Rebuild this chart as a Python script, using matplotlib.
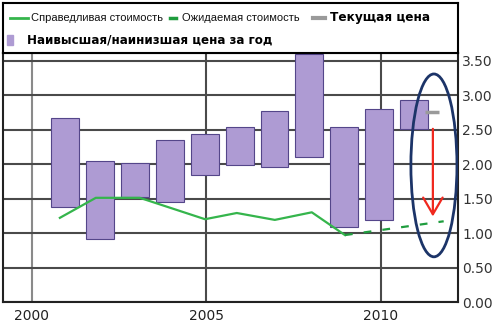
import numpy as np
import matplotlib.pyplot as plt
from matplotlib.patches import Ellipse, Rectangle

# ---- data ----
years = np.arange(2001, 2012)
price_high = np.array([2.67, 2.05, 2.01, 2.35, 2.43, 2.54, 2.77, 3.59, 2.54, 2.80, 2.93])
price_low = np.array([1.37, 0.91, 1.52, 1.45, 1.84, 1.99, 1.96, 2.10, 1.09, 1.19, 2.51])

fair_x = [2000.80, 2001.83, 2003.09, 2004.96, 2005.87, 2006.96, 2008.02, 2008.97]
fair_value = [1.22, 1.51, 1.51, 1.20, 1.29, 1.19, 1.30, 0.97]

expected_x = [2008.97, 2011.80]
expected_value = [0.97, 1.17]

current_year = 2011.46
current_price = 2.75
target_price = 1.24

x_ticks = [2000, 2005, 2010]
y_ticks = np.arange(0, 3.51, 0.5)

purple = "#ae9bd3"
green = "#35b54c"
green_dark = "#1f9d3e"
grey = "#9a9a9a"

fig = plt.figure(figsize=(5, 3.35), dpi=100)
ax = fig.add_axes([0.006, 0.0985, 0.91, 0.7435])

# high / low range per year
ax.bar(years - 0.05, price_high - price_low, bottom=price_low, width=0.8,
       color=purple, edgecolor="#54468a", linewidth=0.8, zorder=3)

# fair value (solid) and expected value (dashed)
ax.plot(fair_x, fair_value, color=green, lw=1.6, zorder=4)
ax.plot(expected_x, expected_value, color=green_dark, lw=1.6,
        linestyle=(0, (3.5, 5)), zorder=4)

# current price
ax.hlines(current_price, current_year - 0.2, current_year + 0.2,
          color=grey, lw=2.5, zorder=5)

# red arrow down to the target + ellipse
ax.annotate("", xy=(current_year + 0.03, target_price),
            xytext=(current_year + 0.03, price_low[-1]),
            arrowprops=dict(arrowstyle="->,head_length=1.2,head_width=0.7",
                            color="#f0281e", lw=1.6, shrinkA=0, shrinkB=0),
            zorder=6)
ax.add_patch(Ellipse((2011.52, 1.98), 1.32, 2.65, fill=False,
                     ec="#1c3468", lw=2, zorder=6))

ax.set_xlim(1999.17, 2012.21)
ax.set_ylim(0, 3.61)
ax.set_xticks(x_ticks)
ax.set_xticklabels([str(y) for y in x_ticks], fontsize=10, color="#222222")
ax.set_yticks(y_ticks)
ax.set_yticklabels([f"{v:.2f}" for v in y_ticks], fontsize=10, color="#333333")
ax.yaxis.tick_right()
ax.tick_params(length=0, pad=3)
ax.tick_params(axis="x", pad=5)

ax.grid(True, color="#4a4a4a", lw=1.5)
ax.get_xgridlines()[0].set_color("#8a8a8a")
ax.set_axisbelow(True)
for s in ax.spines.values():
    s.set_color("#222222")
    s.set_linewidth(1.5)

# legend box on top
lax = fig.add_axes([0.006, 0.842, 0.91, 0.149])
lax.set_xlim(0, 455)
lax.set_ylim(50, 0)
lax.set_xticks([])
lax.set_yticks([])
for s in lax.spines.values():
    s.set_color("black")
    s.set_linewidth(1.5)

lax.plot([7, 25], [15, 15], color=green, lw=2)
lax.text(28, 15, "Справедливая стоимость", va="center", fontsize=8,
         family="Liberation Sans", color="#111111")
lax.plot([167, 173], [15, 15], color=green_dark, lw=2.5)
lax.text(179, 15, "Ожидаемая стоимость", va="center", fontsize=8,
         family="Liberation Sans", color="#111111")
lax.plot([310, 322], [15, 15], color=grey, lw=3)
lax.text(327, 15, "Текущая цена", va="center", fontsize=8.7, fontweight="bold")
lax.add_patch(Rectangle((4, 32), 6, 10, color=purple))
lax.text(24, 37, "Наивысшая/наинизшая цена за год", va="center",
         fontsize=8.6, fontweight="bold")

fig.savefig("out.png", dpi=100)
